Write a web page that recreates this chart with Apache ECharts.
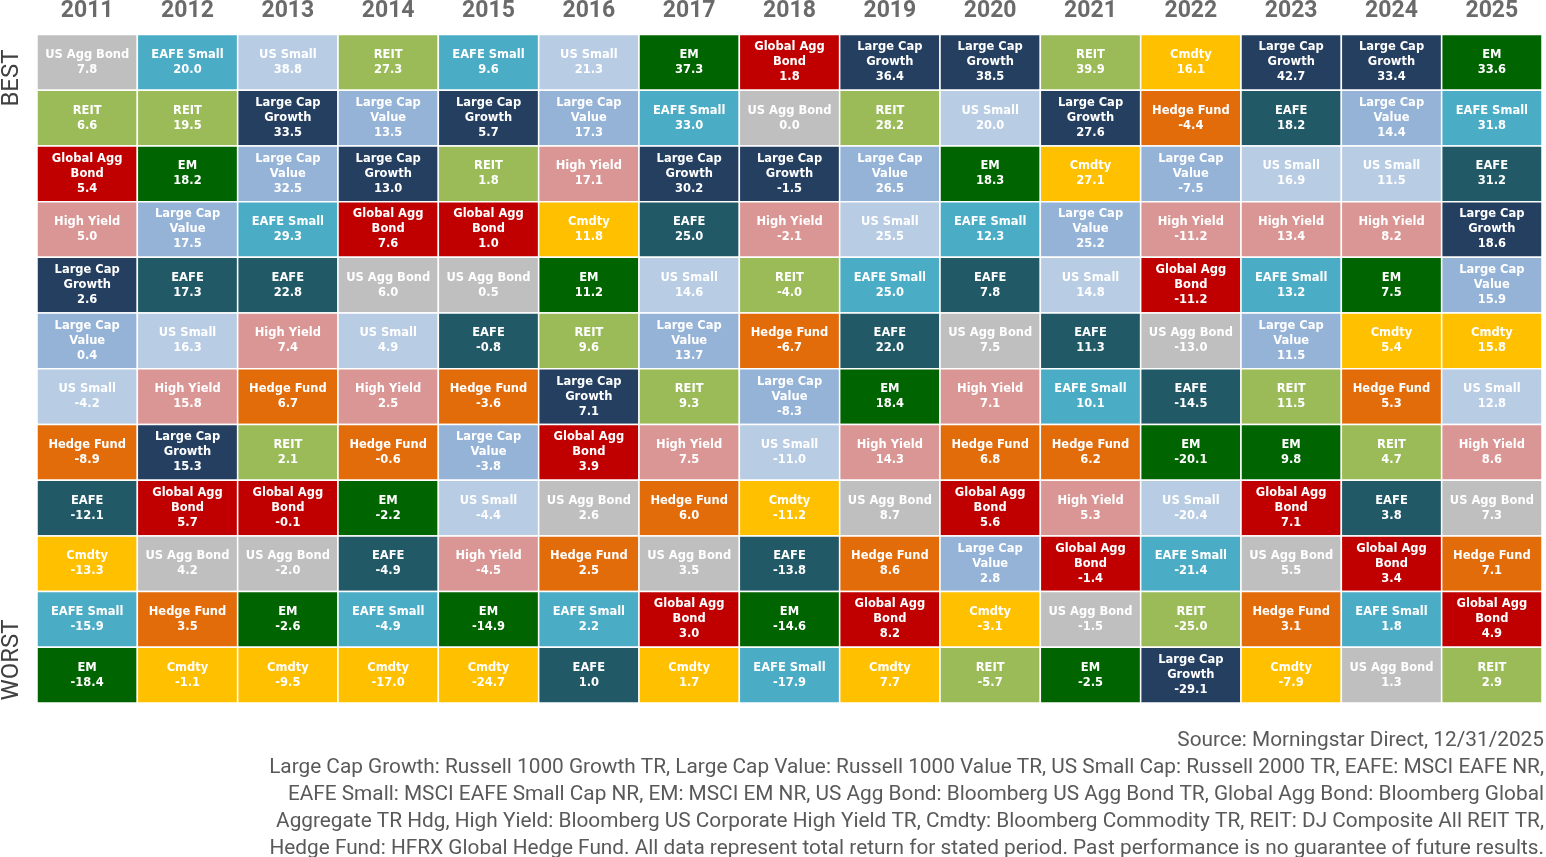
<!DOCTYPE html>
<html>
<head>
<meta charset="utf-8">
<script src="https://cdn.jsdelivr.net/npm/echarts@6/dist/echarts.min.js"></script>
<style>
  html, body { margin: 0; padding: 0; background: #fff; }
  #chart { width: 1546px; height: 857px; }
</style>
</head>
<body>
<div id="chart"></div>
<script>
// years across the top
var years = ['2011', '2012', '2013', '2014', '2015', '2016', '2017', '2018', '2019', '2020', '2021', '2022', '2023', '2024', '2025'];

// asset class codes, labels and colours
var classCodes  = ['AGG', 'EAFES', 'USS', 'REIT', 'EM', 'GAGG', 'LCG', 'CMD', 'LCV', 'HY', 'HF', 'EAFE'];
var classLabels = ['US Agg Bond', 'EAFE Small', 'US Small', 'REIT', 'EM', 'Global Agg\nBond', 'Large Cap\nGrowth', 'Cmdty', 'Large Cap\nValue', 'High Yield', 'Hedge Fund', 'EAFE'];
var classColors = ['#bfbfbf', '#4bacc6', '#b8cce4', '#9bbb59', '#006400', '#c00000', '#243f60', '#ffc000', '#95b3d7', '#da9694', '#e26b0a', '#215967'];

// ranking per year, best to worst
var rankedClasses = [
  ['AGG', 'REIT', 'GAGG', 'HY', 'LCG', 'LCV', 'USS', 'HF', 'EAFE', 'CMD', 'EAFES', 'EM'],
  ['EAFES', 'REIT', 'EM', 'LCV', 'EAFE', 'USS', 'HY', 'LCG', 'GAGG', 'AGG', 'HF', 'CMD'],
  ['USS', 'LCG', 'LCV', 'EAFES', 'EAFE', 'HY', 'HF', 'REIT', 'GAGG', 'AGG', 'EM', 'CMD'],
  ['REIT', 'LCV', 'LCG', 'GAGG', 'AGG', 'USS', 'HY', 'HF', 'EM', 'EAFE', 'EAFES', 'CMD'],
  ['EAFES', 'LCG', 'REIT', 'GAGG', 'AGG', 'EAFE', 'HF', 'LCV', 'USS', 'HY', 'EM', 'CMD'],
  ['USS', 'LCV', 'HY', 'CMD', 'EM', 'REIT', 'LCG', 'GAGG', 'AGG', 'HF', 'EAFES', 'EAFE'],
  ['EM', 'EAFES', 'LCG', 'EAFE', 'USS', 'LCV', 'REIT', 'HY', 'HF', 'AGG', 'GAGG', 'CMD'],
  ['GAGG', 'AGG', 'LCG', 'HY', 'REIT', 'HF', 'LCV', 'USS', 'CMD', 'EAFE', 'EM', 'EAFES'],
  ['LCG', 'REIT', 'LCV', 'USS', 'EAFES', 'EAFE', 'EM', 'HY', 'AGG', 'HF', 'GAGG', 'CMD'],
  ['LCG', 'USS', 'EM', 'EAFES', 'EAFE', 'AGG', 'HY', 'HF', 'GAGG', 'LCV', 'CMD', 'REIT'],
  ['REIT', 'LCG', 'CMD', 'LCV', 'USS', 'EAFE', 'EAFES', 'HF', 'HY', 'GAGG', 'AGG', 'EM'],
  ['CMD', 'HF', 'LCV', 'HY', 'GAGG', 'AGG', 'EAFE', 'EM', 'USS', 'EAFES', 'REIT', 'LCG'],
  ['LCG', 'EAFE', 'USS', 'HY', 'EAFES', 'LCV', 'REIT', 'EM', 'GAGG', 'AGG', 'HF', 'CMD'],
  ['LCG', 'LCV', 'USS', 'HY', 'EM', 'CMD', 'HF', 'REIT', 'EAFE', 'GAGG', 'EAFES', 'AGG'],
  ['EM', 'EAFES', 'EAFE', 'LCG', 'LCV', 'CMD', 'USS', 'HY', 'AGG', 'HF', 'GAGG', 'REIT']
];

// total returns (%) in the same order
var rankedReturns = [
  [7.8, 6.6, 5.4, 5.0, 2.6, 0.4, -4.2, -8.9, -12.1, -13.3, -15.9, -18.4],
  [20.0, 19.5, 18.2, 17.5, 17.3, 16.3, 15.8, 15.3, 5.7, 4.2, 3.5, -1.1],
  [38.8, 33.5, 32.5, 29.3, 22.8, 7.4, 6.7, 2.1, -0.1, -2.0, -2.6, -9.5],
  [27.3, 13.5, 13.0, 7.6, 6.0, 4.9, 2.5, -0.6, -2.2, -4.9, -4.9, -17.0],
  [9.6, 5.7, 1.8, 1.0, 0.5, -0.8, -3.6, -3.8, -4.4, -4.5, -14.9, -24.7],
  [21.3, 17.3, 17.1, 11.8, 11.2, 9.6, 7.1, 3.9, 2.6, 2.5, 2.2, 1.0],
  [37.3, 33.0, 30.2, 25.0, 14.6, 13.7, 9.3, 7.5, 6.0, 3.5, 3.0, 1.7],
  [1.8, 0.0, -1.5, -2.1, -4.0, -6.7, -8.3, -11.0, -11.2, -13.8, -14.6, -17.9],
  [36.4, 28.2, 26.5, 25.5, 25.0, 22.0, 18.4, 14.3, 8.7, 8.6, 8.2, 7.7],
  [38.5, 20.0, 18.3, 12.3, 7.8, 7.5, 7.1, 6.8, 5.6, 2.8, -3.1, -5.7],
  [39.9, 27.6, 27.1, 25.2, 14.8, 11.3, 10.1, 6.2, 5.3, -1.4, -1.5, -2.5],
  [16.1, -4.4, -7.5, -11.2, -11.2, -13.0, -14.5, -20.1, -20.4, -21.4, -25.0, -29.1],
  [42.7, 18.2, 16.9, 13.4, 13.2, 11.5, 11.5, 9.8, 7.1, 5.5, 3.1, -7.9],
  [33.4, 14.4, 11.5, 8.2, 7.5, 5.4, 5.3, 4.7, 3.8, 3.4, 1.8, 1.3],
  [33.6, 31.8, 31.2, 18.6, 15.9, 15.8, 12.8, 8.6, 7.3, 7.1, 4.9, 2.9]
];

var ranks = ['1', '2', '3', '4', '5', '6', '7', '8', '9', '10', '11', '12'];

var footnote = [
  'Source: Morningstar Direct, 12/31/2025',
  'Large Cap Growth: Russell 1000 Growth TR, Large Cap Value: Russell 1000 Value TR, US Small Cap: Russell 2000 TR, EAFE: MSCI EAFE NR,',
  'EAFE Small: MSCI EAFE Small Cap NR, EM: MSCI EM NR, US Agg Bond: Bloomberg US Agg Bond TR, Global Agg Bond: Bloomberg Global',
  'Aggregate TR Hdg, High Yield: Bloomberg US Corporate High Yield TR, Cmdty: Bloomberg Commodity TR, REIT: DJ Composite All REIT TR,',
  'Hedge Fund: HFRX Global Hedge Fund. All data represent total return for stated period. Past performance is no guarantee of future results.'
];

// build cells: [yearIndex, rankIndex, classIndex, value]
var cells = [];
for (var i = 0; i < years.length; i++) {
  for (var r = 0; r < ranks.length; r++) {
    cells.push([i, r, classCodes.indexOf(rankedClasses[i][r]), rankedReturns[i][r]]);
  }
}

var chart = echarts.init(document.getElementById('chart'));

function renderCell(params, api) {
  var p = api.coord([api.value(0), api.value(1)]);
  var s = api.size([1, 1]);
  var k = api.value(2);
  return {
    type: 'group',
    children: [{
      type: 'rect',
      shape: { x: p[0] - s[0] / 2, y: p[1] - s[1] / 2, width: s[0], height: s[1] },
      style: { fill: classColors[k], stroke: '#fff', lineWidth: 1.5 }
    }, {
      type: 'text',
      x: p[0],
      y: p[1],
      style: {
        text: classLabels[k] + '\n' + api.value(3).toFixed(1),
        fill: '#fff',
        font: 'bold 11.5px "DejaVu Sans", Verdana, sans-serif',
        align: 'center',
        verticalAlign: 'middle',
        lineHeight: 15
      }
    }]
  };
}

var footGraphics = footnote.map(function (line, j) {
  return {
    type: 'text',
    right: 2,
    top: 730 + j * 27,
    style: {
      text: line,
      fill: '#595959',
      font: '20.8px Roboto, sans-serif',
      textAlign: 'right'
    }
  };
});

option = {
  animation: false,
  grid: { left: 37, right: 4, top: 31, bottom: 154 },
  xAxis: {
    type: 'category',
    position: 'top',
    data: years,
    axisLine: { show: false },
    axisTick: { show: false },
    splitLine: { show: false },
    axisLabel: {
      margin: 23,
      verticalAlign: 'middle',
      color: '#6a6a6a',
      fontFamily: 'Roboto',
      fontWeight: 'bold',
      fontSize: 23
    }
  },
  yAxis: {
    type: 'category',
    inverse: true,
    data: ranks,
    show: false
  },
  graphic: [{
    type: 'text',
    x: 12,
    y: 78,
    rotation: Math.PI / 2,
    style: { text: 'BEST', fill: '#404040', font: '24px Roboto, sans-serif', align: 'center', verticalAlign: 'middle' }
  }, {
    type: 'text',
    x: 12,
    y: 660,
    rotation: Math.PI / 2,
    style: { text: 'WORST', fill: '#404040', font: '24px Roboto, sans-serif', align: 'center', verticalAlign: 'middle' }
  }].concat(footGraphics),
  series: [{
    type: 'custom',
    renderItem: renderCell,
    data: cells,
    encode: { x: 0, y: 1 }
  }]
};

chart.setOption(option);
</script>
</body>
</html>
